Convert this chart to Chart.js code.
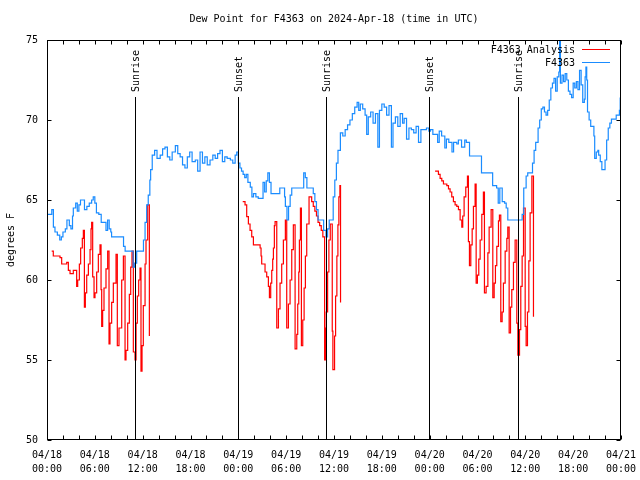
<!DOCTYPE html>
<html lang="en">
<head>
<meta charset="UTF-8">
<title>Dew Point for F4363</title>
<script src="https://cdn.jsdelivr.net/npm/chart.js"></script>
<style>
  body { margin: 0; background: #fff; }
  #chart { display: block; }
</style>
</head>
<body>
<canvas id="chart" width="640" height="480"></canvas>
<script>
// hours since 04/18 00:00 UTC
const blueHours = [0.0, 0.6, 0.8, 1.0, 1.3, 1.6, 1.8, 2.0, 2.3, 2.5, 2.8, 3.0, 3.2, 3.3, 3.6, 3.8, 4.0, 4.2, 4.5, 4.7,
    5.0, 5.3, 5.6, 5.8, 6.0, 6.2, 6.5, 6.8, 7.2, 7.4, 7.6, 7.8, 8.0, 8.1, 9.4, 9.6, 9.8, 10.8, 11.0, 11.25,
    11.9, 12.1, 12.3, 12.5, 12.7, 12.9, 13.0, 13.2, 13.5, 13.8, 14.2, 14.5, 14.8, 15.1, 15.4, 15.7, 16.1, 16.4, 16.7, 17.0,
    17.3, 17.6, 17.9, 18.2, 18.6, 18.9, 19.2, 19.5, 19.8, 20.1, 20.45, 20.8, 21.1, 21.4, 21.7, 22.0, 22.3, 22.6, 23.0, 23.3,
    23.6, 23.8, 24.0, 24.2, 24.4, 24.6, 24.8, 25.0, 25.2, 25.5, 25.7, 25.9, 26.2, 26.5, 27.0, 27.1, 27.3, 27.5, 27.7, 27.9,
    28.1, 29.2, 29.6, 29.8, 29.9, 30.1, 30.3, 30.5, 30.7, 32.1, 32.2, 32.4, 32.6, 33.3, 33.4, 33.6, 33.8, 34.0, 34.5, 34.7,
    35.0, 35.2, 35.4, 35.8, 35.9, 36.1, 36.3, 36.5, 36.8, 37.1, 37.4, 37.7, 38.0, 38.3, 38.6, 38.9, 39.1, 39.3, 39.6, 39.9,
    40.1, 40.3, 40.6, 40.9, 41.2, 41.5, 41.7, 42.0, 42.3, 42.6, 42.9, 43.2, 43.4, 43.7, 44.0, 44.3, 44.6, 44.8, 45.1, 45.4,
    45.7, 46.0, 46.3, 46.6, 46.9, 47.2, 47.6, 47.9, 48.1, 48.4, 48.7, 49.0, 49.2, 49.5, 49.9, 50.1, 50.4, 50.8, 51.0, 51.4,
    51.6, 52.0, 52.4, 52.6, 53.0, 54.3, 54.5, 55.8, 55.9, 56.4, 56.6, 56.8, 57.1, 57.4, 57.6, 57.8, 59.3, 59.6, 59.8, 60.1,
    60.3, 60.8, 60.9, 61.1, 61.3, 61.6, 61.8, 62.0, 62.2, 62.4, 62.6, 62.8, 63.0, 63.2, 63.4, 63.6, 63.8, 64.0, 64.2, 64.3,
    64.4, 64.6, 64.8, 65.0, 65.2, 65.4, 65.6, 65.8, 66.0, 66.2, 66.4, 66.6, 66.8, 67.0, 67.2, 67.4, 67.5, 67.6, 67.7, 67.8,
    68.0, 68.2, 68.4, 68.6, 68.7, 68.9, 69.1, 69.2, 69.4, 69.6, 69.8, 70.0, 70.2, 70.4, 70.6, 70.8, 71.2, 71.4, 71.6, 71.8, 71.9];
const blueDew = [64.1, 64.4, 63.3, 63.0, 62.8, 62.5, 62.7, 63.0, 63.2, 63.75, 63.4, 63.2, 64.0, 64.5, 64.8, 64.3, 64.7, 65.0, 65.0, 64.4,
    64.6, 64.8, 65.0, 65.2, 64.8, 64.2, 64.1, 63.6, 63.6, 63.1, 63.75, 63.2, 63.0, 62.7, 62.7, 62.1, 61.8, 60.8, 61.05, 61.8,
    61.8, 62.5, 63.6, 64.7, 65.3, 66.25, 66.9, 67.8, 68.1, 67.6, 67.8, 68.2, 68.3, 67.7, 67.5, 68.0, 68.4, 67.9, 67.7, 67.2,
    67.0, 67.7, 68.0, 67.4, 67.5, 66.8, 68.0, 67.3, 67.7, 67.2, 67.5, 67.8, 67.6, 67.9, 68.1, 67.4, 67.7, 67.6, 67.5, 67.3,
    67.8, 68.0, 67.3, 67.0, 66.8, 66.6, 66.4, 66.6, 66.1, 65.8, 65.2, 65.4, 65.2, 65.1, 65.1, 66.1, 65.5, 66.2, 66.7, 66.1,
    65.4, 65.75, 65.75, 65.2, 64.6, 63.75, 64.6, 65.3, 65.75, 65.75, 66.7, 66.4, 65.75, 65.75, 65.4, 64.9, 64.4, 63.75, 63.75, 63.1,
    62.7, 63.2, 63.75, 63.75, 65.2, 66.25, 67.3, 68.1, 69.2, 69.0, 69.4, 69.7, 70.0, 70.4, 70.8, 71.1, 70.6, 71.0, 70.7, 70.3,
    69.1, 70.2, 70.5, 69.8, 70.4, 68.3, 70.6, 71.0, 70.8, 70.3, 70.9, 68.3, 69.8, 70.2, 69.6, 70.4, 69.8, 70.1, 68.8, 69.5,
    69.4, 69.2, 69.6, 68.6, 69.4, 69.4, 69.5, 69.3, 69.4, 69.1, 69.1, 68.6, 69.3, 69.0, 68.25, 68.8, 68.6, 68.0, 68.6, 68.5,
    68.75, 68.3, 68.75, 68.6, 67.75, 67.75, 66.7, 66.7, 65.9, 65.75, 64.8, 65.75, 64.9, 64.8, 64.5, 63.75, 63.75, 64.1, 65.75, 66.5,
    66.7, 66.7, 67.3, 68.1, 68.6, 69.5, 70.0, 70.7, 70.8, 70.5, 70.3, 70.6, 71.25, 72.0, 72.3, 72.6, 71.8, 72.7, 73.0, 75.0,
    72.3, 72.8, 72.4, 72.9, 72.5, 71.8, 71.6, 71.4, 72.3, 72.0, 72.4, 71.9, 73.1, 72.2, 71.1, 71.3, 72.7, 73.3, 72.5, 70.5,
    70.0, 69.6, 69.6, 69.0, 67.6, 68.0, 68.1, 67.8, 67.4, 66.9, 66.9, 67.5, 68.75, 69.5, 69.8, 70.05, 70.05, 70.3, 70.3, 70.6, 71.4];

const redHours = [0.59, 0.79, 1.63, 1.84, 2.47, 2.68, 2.89, 3.3, 3.72, 3.85, 4.06, 4.22, 4.43, 4.56, 4.69, 4.81, 4.98, 5.19, 5.4, 5.52,
    5.6, 5.73, 5.9, 6.02, 6.23, 6.44, 6.65, 6.78, 6.86, 6.98, 7.15, 7.4, 7.61, 7.78, 7.9, 8.11, 8.32, 8.66, 8.82, 9.03,
    9.37, 9.58, 9.79, 9.91, 10.12, 10.33, 10.5, 10.66, 10.83, 11.04, 11.17, 11.33, 11.5, 11.67, 11.79, 11.92, 12.08, 12.3, 12.42, 12.63,
    12.84, 13.0,
    24.55, 24.84, 25.05, 25.26, 25.47, 25.68, 25.89, 26.73, 26.85, 26.93, 27.35, 27.56, 27.77, 27.9, 28.06, 28.19, 28.31, 28.4, 28.52, 28.61,
    28.82, 29.03, 29.23, 29.44, 29.65, 29.9, 30.07, 30.28, 30.49, 30.7, 30.9, 31.12, 31.33, 31.45, 31.58, 31.66, 31.79, 31.91, 32.08, 32.25,
    32.41, 32.58, 32.87, 33.2, 33.4, 33.6, 33.8, 34.0, 34.2, 34.4, 34.6, 34.82, 34.95, 35.03, 35.2, 35.36, 35.53, 35.78, 35.86, 36.07,
    36.2, 36.36, 36.49, 36.61, 36.74, 36.82, 37.0,
    48.68, 49.1, 49.31, 49.52, 49.73, 50.15, 50.36, 50.56, 50.77, 50.98, 51.19, 51.4, 51.61, 51.82, 52.03, 52.15, 52.32, 52.53, 52.74, 52.86,
    52.99, 53.16, 53.33, 53.49, 53.7, 53.83, 53.99, 54.16, 54.33, 54.54, 54.74, 54.87, 55.08, 55.3, 55.46, 55.71, 55.92, 56.09, 56.25, 56.42,
    56.63, 56.75, 56.92, 57.09, 57.25, 57.47, 57.68, 57.8, 57.97, 58.14, 58.3, 58.51, 58.72, 58.93, 59.06, 59.27, 59.43, 59.6, 59.77, 59.98,
    60.1, 60.27, 60.44, 60.6, 60.82, 61.02];
const redDew = [61.8, 61.5, 61.4, 61.0, 61.1, 60.6, 60.4, 60.6, 59.6, 60.0, 61.0, 62.0, 62.6, 63.1, 58.3, 59.2, 60.3, 61.0, 61.9, 63.2,
    63.6, 60.2, 58.9, 59.2, 60.5, 61.6, 62.2, 59.4, 57.1, 58.1, 59.5, 60.7, 61.8, 56.0, 57.3, 58.6, 59.8, 61.6, 55.9, 57.0,
    60.0, 61.5, 55.0, 55.6, 57.3, 59.1, 60.8, 61.8, 55.5, 55.0, 57.3, 59.0, 60.0, 60.75, 54.3, 55.9, 58.4, 61.0, 62.5, 64.7,
    56.5, null,
    64.9, 64.7, 63.96, 63.5, 63.1, 62.7, 62.2, 62.0, 61.5, 61.0, 60.5, 60.2, 59.6, 58.9, 59.8, 60.6, 61.3, 62.0, 63.4, 63.65,
    57.0, 58.2, 59.8, 61.0, 62.5, 63.75, 57.0, 58.5, 60.0, 61.9, 63.45, 55.7, 56.6, 58.5, 60.5, 62.5, 64.5, 55.9, 57.5, 59.5,
    61.5, 63.5, 65.2, 64.9, 64.6, 64.3, 64.0, 63.6, 63.4, 63.1, 62.7, 55.0, 57.0, 58.0, 60.5, 62.5, 63.5, 56.8, 54.4, 56.5,
    59.0, 61.5, 63.45, 65.2, 65.9, 58.6, null,
    66.8, 66.6, 66.35, 66.2, 66.0, 65.9, 65.7, 65.5, 65.2, 64.9, 64.7, 64.6, 64.4, 63.75, 63.3, 64.0, 65.2, 65.8, 66.5, 62.4,
    60.9, 62.2, 63.2, 64.6, 66.0, 59.8, 60.3, 61.3, 62.5, 64.1, 65.5, 59.2, 59.6, 61.7, 63.3, 64.4, 58.9, 59.8, 60.9, 62.1,
    63.7, 64.06, 57.4, 58.0, 59.8, 61.8, 62.6, 63.3, 56.7, 58.3, 59.4, 61.1, 62.5, 57.3, 55.3, 56.9, 59.6, 61.5, 64.5, 57.1,
    55.9, 58.0, 61.2, 64.2, 66.5, 57.7];

const sunHours = [11.04, 23.96, 35.0, 47.9, 59.1];
const sunLabels = ['Sunrise', 'Sunset', 'Sunrise', 'Sunset', 'Sunrise'];
const seriesNames = ['F4363 Analysis', 'F4363'];
const seriesColors = ['#ff0000', '#1a8cff'];
const chartTitle = 'Dew Point for F4363 on 2024-Apr-18 (time in UTC)';
const yTitle = 'degrees F';

const FONT = '10px "DejaVu Sans Mono", monospace';
Chart.defaults.font.family = '"DejaVu Sans Mono", monospace';
Chart.defaults.font.size = 10;
Chart.defaults.color = '#000';

function pad2(n) { return (n < 10 ? '0' : '') + n; }

// frame, inward ticks, sun lines, title, legend
const decor = {
    id: 'decor',
    afterDatasetsDraw(chart) {
        const { ctx, chartArea: a, scales } = chart;
        ctx.save();
        ctx.strokeStyle = '#000';
        ctx.lineWidth = 1;
        ctx.font = FONT;
        ctx.fillStyle = '#000';
        for (let i = 0; i < sunHours.length; i++) {
            const px = Math.round(scales.x.getPixelForValue(sunHours[i])) + 0.5;
            ctx.beginPath();
            ctx.moveTo(px, a.bottom);
            ctx.lineTo(px, 97);
            ctx.stroke();
            ctx.save();
            ctx.translate(px + 1, 92);
            ctx.rotate(-Math.PI / 2);
            ctx.textAlign = 'left';
            ctx.textBaseline = 'middle';
            ctx.fillText(sunLabels[i], 0, 0);
            ctx.restore();
        }
        ctx.restore();
    },
    afterDraw(chart) {
        const { ctx, chartArea: a, scales } = chart;
        ctx.save();
        ctx.strokeStyle = '#000';
        ctx.lineWidth = 1;
        const L = Math.round(a.left) + 0.5, R = Math.round(a.right) - 0.5;
        const T = Math.round(a.top) + 0.5, B = Math.round(a.bottom) - 0.5;
        ctx.strokeRect(L, T, R - L, B - T);

        ctx.beginPath();
        scales.x.ticks.forEach(t => {
            const px = Math.round(scales.x.getPixelForValue(t.value)) + 0.5;
            ctx.moveTo(px, B); ctx.lineTo(px, B - 4);
            ctx.moveTo(px, T); ctx.lineTo(px, T + 4);
        });
        scales.y.ticks.forEach(t => {
            const py = Math.round(scales.y.getPixelForValue(t.value)) + 0.5;
            ctx.moveTo(L, py); ctx.lineTo(L + 4, py);
            ctx.moveTo(R, py); ctx.lineTo(R - 4, py);
        });
        ctx.stroke();

        ctx.font = FONT;
        ctx.fillStyle = '#000';
        ctx.textAlign = 'center';
        ctx.textBaseline = 'middle';
        ctx.fillText(chartTitle, (a.left + a.right) / 2, 19);

        ctx.save();
        ctx.translate(11, (a.top + a.bottom) / 2);
        ctx.rotate(-Math.PI / 2);
        ctx.fillText(yTitle, 0, 0);
        ctx.restore();

        // legend, top right
        ctx.textAlign = 'right';
        for (let i = 0; i < seriesNames.length; i++) {
            const ly = 49 + i * 13;
            ctx.fillStyle = '#000';
            ctx.fillText(seriesNames[i], a.right - 46, ly + 1);
            ctx.strokeStyle = seriesColors[i];
            ctx.beginPath();
            ctx.moveTo(a.right - 39, ly + 0.5);
            ctx.lineTo(a.right - 11, ly + 0.5);
            ctx.stroke();
        }
        ctx.restore();
    }
};

new Chart(document.getElementById('chart'), {
    type: 'line',
    data: {
        datasets: [{
            label: seriesNames[0],
            data: redHours.map((h, i) => ({ x: h, y: redDew[i] })),
            borderColor: seriesColors[0],
            borderWidth: 1.2,
            pointRadius: 0,
            stepped: true,
            spanGaps: false,
            order: 1
        }, {
            label: seriesNames[1],
            data: blueHours.map((h, i) => ({ x: h, y: blueDew[i] })),
            borderColor: seriesColors[1],
            borderWidth: 1.2,
            pointRadius: 0,
            stepped: true,
            order: 0
        }]
    },
    options: {
        responsive: false,
        animation: false,
        layout: { padding: { top: 40, right: 19, left: 0, bottom: 0 } },
        plugins: {
            legend: { display: false },
            title: { display: false },
            tooltip: { enabled: false }
        },
        scales: {
            x: {
                type: 'linear',
                min: 0,
                max: 72,
                grid: { display: false, drawTicks: false },
                border: { display: false },
                afterFit(s) {
                    s.height = 40;
                    s.paddingLeft = 0;
                    s.paddingRight = 0;
                },
                ticks: {
                    stepSize: 2,
                    autoSkip: false,
                    maxRotation: 0,
                    minRotation: 0,
                    padding: 8,
                    font: { lineHeight: 1.4 },
                    callback(v) {
                        if (v % 6 !== 0) return '';
                        const day = 18 + Math.floor(v / 24);
                        return ['04/' + day, pad2(v % 24) + ':00'];
                    }
                }
            },
            y: {
                min: 50,
                max: 75,
                grid: { display: false, drawTicks: false },
                border: { display: false },
                afterFit(s) { s.width = 47; },
                ticks: { stepSize: 5, padding: 9 }
            }
        }
    },
    plugins: [decor]
});
</script>
</body>
</html>
